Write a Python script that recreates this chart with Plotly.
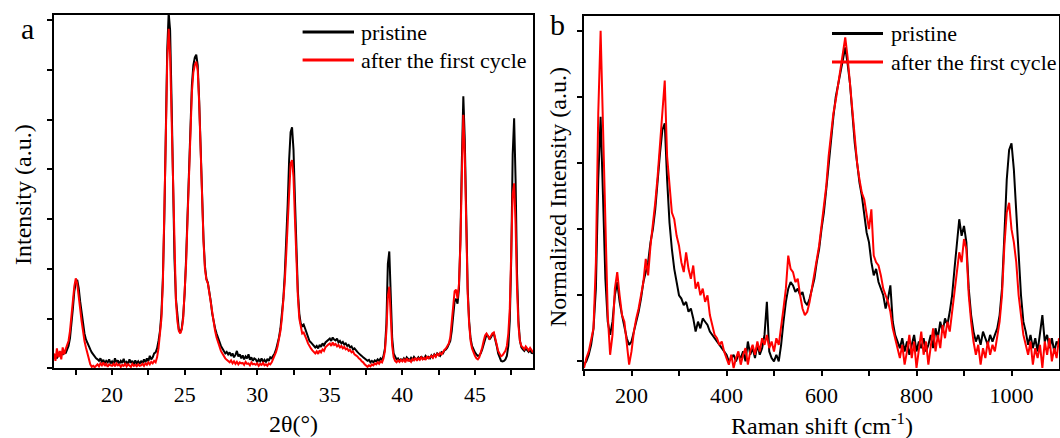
import plotly.graph_objects as go

# ---------------- Panel a: XRD (2theta from 16.0 to 49.0, step 0.1) ----------------
XRD_START = 16.0
XRD_STEP = 0.1
xrd_pristine = [
    0.22, 0.28, 0.20, 0.30, 0.25, 0.33, 0.27, 0.35, 0.30, 0.38,
    0.45, 0.60, 0.85, 1.20, 1.55, 1.72, 1.78, 1.62, 1.35, 1.10,
    0.85, 0.70, 0.58, 0.50, 0.45, 0.38, 0.32, 0.28, 0.22, 0.20,
    0.18, 0.15, 0.20, 0.12, 0.17, 0.10, 0.15, 0.12, 0.18, 0.10,
    0.14, 0.08, 0.20, 0.12, 0.16, 0.09, 0.15, 0.11, 0.19, 0.10,
    0.13, 0.08, 0.18, 0.11, 0.15, 0.07, 0.16, 0.10, 0.14, 0.09,
    0.15, 0.10, 0.18, 0.12, 0.20, 0.14, 0.25, 0.18, 0.22, 0.30,
    0.32, 0.40, 0.55, 0.75, 1.10, 1.80, 3.00, 4.70, 6.40, 7.15,
    6.80, 5.40, 3.60, 2.20, 1.40, 1.00, 0.78, 0.72, 0.80, 1.05,
    1.50, 2.20, 3.10, 4.10, 5.00, 5.70, 6.10, 6.25, 6.31, 6.10,
    5.40, 4.40, 3.40, 2.60, 2.05, 1.80, 1.72, 1.55, 1.35, 1.10,
    0.92, 0.80, 0.70, 0.60, 0.52, 0.45, 0.40, 0.35, 0.30, 0.33,
    0.28, 0.32, 0.25, 0.30, 0.22, 0.27, 0.35, 0.24, 0.28, 0.20,
    0.26, 0.18, 0.24, 0.20, 0.28, 0.17, 0.22, 0.15, 0.20, 0.18,
    0.12, 0.18, 0.14, 0.20, 0.13, 0.17, 0.12, 0.19, 0.15, 0.22,
    0.20, 0.25, 0.30, 0.38, 0.48, 0.62, 0.80, 1.05, 1.40, 1.90,
    2.50, 3.30, 4.20, 4.75, 4.85, 4.40, 3.40, 2.30, 1.55, 1.10,
    0.90, 0.85, 0.88, 0.80, 0.70, 0.62, 0.55, 0.52, 0.48, 0.45,
    0.42, 0.45, 0.40, 0.47, 0.43, 0.50, 0.46, 0.52, 0.55, 0.58,
    0.60, 0.55, 0.62, 0.58, 0.56, 0.60, 0.52, 0.55, 0.50, 0.53,
    0.48, 0.50, 0.45, 0.47, 0.42, 0.44, 0.38, 0.40, 0.35, 0.33,
    0.30, 0.28, 0.25, 0.22, 0.20, 0.18, 0.15, 0.17, 0.12, 0.15,
    0.12, 0.16, 0.14, 0.18, 0.15, 0.20, 0.17, 0.25, 0.40, 0.90,
    2.10, 2.35, 1.40, 0.60, 0.30, 0.22, 0.18, 0.20, 0.15, 0.18,
    0.16, 0.20, 0.15, 0.22, 0.18, 0.16, 0.21, 0.17, 0.23, 0.19,
    0.18, 0.22, 0.17, 0.24, 0.20, 0.19, 0.25, 0.21, 0.23, 0.20,
    0.26, 0.22, 0.28, 0.24, 0.30, 0.27, 0.25, 0.32, 0.30, 0.36,
    0.38, 0.42, 0.48, 0.55, 0.75, 1.05, 1.35, 1.40, 1.30, 1.60,
    2.60, 4.20, 5.47, 4.60, 2.90, 1.60, 0.95, 0.60, 0.45, 0.38,
    0.32, 0.28, 0.25, 0.26, 0.30, 0.38, 0.50, 0.62, 0.68, 0.65,
    0.58, 0.62, 0.68, 0.70, 0.60, 0.45, 0.30, 0.20, 0.15, 0.14,
    0.15, 0.18, 0.25, 0.45, 0.95, 2.20, 4.30, 5.03, 3.80, 1.90,
    0.95, 0.55, 0.42, 0.38, 0.35, 0.40, 0.36, 0.33, 0.37, 0.31,
    0.30,
]
xrd_cycled = [
    0.30, 0.15, 0.40, 0.22, 0.35, 0.18, 0.42, 0.28, 0.38, 0.45,
    0.55, 0.75, 1.00, 1.35, 1.65, 1.81, 1.70, 1.50, 1.20, 0.95,
    0.72, 0.55, 0.42, 0.30, 0.18, 0.08, 0.03, 0.05, 0.02, 0.06,
    0.08, 0.04, 0.10, 0.06, 0.12, 0.05, 0.09, 0.03, 0.08, 0.06,
    0.05, 0.09, 0.04, 0.10, 0.06, 0.08, 0.03, 0.07, 0.05, 0.09,
    0.04, 0.08, 0.06, 0.03, 0.09, 0.05, 0.07, 0.04, 0.08, 0.05,
    0.06, 0.09, 0.05, 0.10, 0.07, 0.12, 0.08, 0.13, 0.10, 0.15,
    0.12, 0.22, 0.40, 0.65, 1.00, 1.70, 2.90, 4.60, 6.20, 6.83,
    6.30, 5.00, 3.40, 2.10, 1.35, 0.95, 0.75, 0.70, 0.78, 1.00,
    1.45, 2.10, 3.00, 4.00, 4.90, 5.55, 5.95, 6.10, 6.17, 6.00,
    5.35, 4.35, 3.35, 2.55, 2.00, 1.78, 1.71, 1.52, 1.30, 1.05,
    0.88, 0.75, 0.62, 0.52, 0.42, 0.35, 0.30, 0.24, 0.20, 0.17,
    0.15, 0.12, 0.16, 0.10, 0.14, 0.09, 0.13, 0.08, 0.12, 0.10,
    0.11, 0.07, 0.13, 0.09, 0.10, 0.06, 0.12, 0.08, 0.09, 0.07,
    0.10, 0.05, 0.09, 0.07, 0.11, 0.06, 0.08, 0.05, 0.10, 0.08,
    0.12, 0.18, 0.25, 0.33, 0.44, 0.58, 0.75, 1.00, 1.30, 1.75,
    2.30, 3.00, 3.75, 4.12, 4.19, 3.85, 3.00, 2.10, 1.45, 1.00,
    0.80, 0.70, 0.72, 0.66, 0.58, 0.50, 0.44, 0.40, 0.36, 0.33,
    0.30, 0.34, 0.29, 0.36, 0.32, 0.38, 0.35, 0.42, 0.46, 0.48,
    0.50, 0.45, 0.52, 0.47, 0.49, 0.44, 0.47, 0.42, 0.45, 0.40,
    0.43, 0.38, 0.40, 0.35, 0.37, 0.32, 0.34, 0.28, 0.26, 0.24,
    0.20, 0.18, 0.14, 0.12, 0.08, 0.05, 0.03, 0.06, 0.04, 0.08,
    0.06, 0.10, 0.08, 0.12, 0.09, 0.14, 0.12, 0.20, 0.35, 0.75,
    1.45, 1.64, 0.95, 0.45, 0.22, 0.15, 0.12, 0.16, 0.13, 0.17,
    0.14, 0.18, 0.12, 0.20, 0.15, 0.17, 0.13, 0.19, 0.16, 0.21,
    0.15, 0.20, 0.17, 0.22, 0.18, 0.21, 0.17, 0.24, 0.20, 0.22,
    0.25, 0.21, 0.27, 0.23, 0.29, 0.26, 0.31, 0.28, 0.34, 0.37,
    0.40, 0.45, 0.50, 0.62, 0.90, 1.25, 1.55, 1.58, 1.40, 1.70,
    2.50, 3.90, 5.10, 4.30, 2.70, 1.50, 0.90, 0.55, 0.40, 0.30,
    0.25, 0.20, 0.18, 0.22, 0.30, 0.42, 0.55, 0.66, 0.70, 0.66,
    0.60, 0.65, 0.70, 0.72, 0.62, 0.48, 0.35, 0.28, 0.24, 0.26,
    0.30, 0.35, 0.45, 0.70, 1.20, 2.40, 3.50, 3.72, 2.90, 1.60,
    0.85, 0.55, 0.45, 0.42, 0.38, 0.44, 0.40, 0.36, 0.41, 0.35,
    0.32,
]
two_theta = [round(XRD_START + XRD_STEP * i, 1) for i in range(len(xrd_pristine))]

# ---------------- Panel b: Raman (100 to 1100 cm-1, step 5) ----------------
RAMAN_START = 100
RAMAN_STEP = 5
raman_pristine = [
    -0.01, 0.00, 0.02, 0.05, 0.10, 0.22, 0.55, 0.74, 0.50, 0.25,
    0.12, 0.08, 0.12, 0.20, 0.24, 0.18, 0.14, 0.10, 0.07, 0.05,
    0.06, 0.09, 0.12, 0.15, 0.19, 0.24, 0.27, 0.30, 0.36, 0.40,
    0.46, 0.55, 0.63, 0.70, 0.72, 0.55, 0.42, 0.34, 0.28, 0.24,
    0.20, 0.19, 0.17, 0.18, 0.15, 0.16, 0.13, 0.09, 0.12, 0.10,
    0.13, 0.12, 0.11, 0.09, 0.08, 0.07, 0.06, 0.05, 0.04, 0.03,
    0.02, 0.00, 0.01, 0.02, 0.00, 0.02, 0.01, 0.03, 0.00, 0.06,
    0.02, 0.04, 0.01, 0.05, 0.02, 0.04, 0.08, 0.18, 0.03, 0.01,
    0.00, 0.02, 0.00, 0.05, 0.12, 0.18, 0.22, 0.24, 0.23, 0.21,
    0.22, 0.20, 0.21, 0.18, 0.17, 0.19, 0.22, 0.25, 0.30, 0.34,
    0.40, 0.45, 0.52, 0.60, 0.67, 0.74, 0.80, 0.84, 0.87, 0.91,
    0.95, 0.90, 0.84, 0.75, 0.66, 0.60, 0.54, 0.50, 0.44, 0.39,
    0.36, 0.30, 0.26, 0.28, 0.24, 0.22, 0.20, 0.16, 0.19, 0.23,
    0.12, 0.08, 0.06, 0.04, 0.07, 0.03, 0.06, 0.02, 0.05, 0.08,
    0.03, 0.06, 0.04, 0.07, 0.03, 0.05, 0.08, 0.04, 0.10, 0.07,
    0.12, 0.09, 0.13, 0.11, 0.15, 0.20, 0.28, 0.36, 0.43, 0.38,
    0.41, 0.36, 0.22, 0.14, 0.09, 0.06, 0.08, 0.05, 0.09, 0.07,
    0.05, 0.08, 0.06, 0.08, 0.10, 0.14, 0.22, 0.38, 0.55, 0.64,
    0.66, 0.58, 0.45, 0.30, 0.20, 0.12, 0.09, 0.05, 0.08, 0.04,
    0.07, 0.03, 0.09, 0.14, 0.06, 0.08, 0.04, 0.07, 0.03, 0.06,
    0.05,
]
raman_cycled = [
    -0.02, 0.01, 0.03, 0.07, 0.10, 0.30, 0.75, 1.00, 0.72, 0.38,
    0.14, 0.02, 0.08, 0.22, 0.27, 0.20, 0.14, 0.12, 0.05, -0.01,
    0.03, 0.09, 0.13, 0.16, 0.20, 0.24, 0.31, 0.26, 0.35, 0.41,
    0.48, 0.56, 0.66, 0.78, 0.85, 0.62, 0.52, 0.45, 0.43, 0.38,
    0.35, 0.30, 0.27, 0.33, 0.28, 0.25, 0.29, 0.22, 0.24, 0.20,
    0.22, 0.18, 0.20, 0.14, 0.11, 0.08, 0.07, 0.05, 0.06, 0.03,
    0.01, -0.01, 0.02, -0.02, 0.01, 0.03, -0.01, 0.02, 0.04, -0.01,
    0.03, 0.05, 0.02, 0.06, 0.03, 0.07, 0.05, 0.08, 0.04, 0.06,
    0.03, 0.07, 0.05, 0.10, 0.16, 0.22, 0.32, 0.28, 0.27, 0.24,
    0.25, 0.20, 0.16, 0.14, 0.15, 0.18, 0.22, 0.26, 0.30, 0.35,
    0.41, 0.47, 0.53, 0.62, 0.69, 0.75, 0.79, 0.84, 0.88, 0.93,
    0.98, 0.92, 0.85, 0.76, 0.68, 0.60, 0.55, 0.51, 0.49, 0.44,
    0.40, 0.46, 0.32, 0.30, 0.29, 0.26, 0.22, 0.20, 0.18, 0.15,
    0.10, 0.07, 0.04, 0.01, 0.05, -0.01, 0.03, 0.08, 0.01, 0.06,
    -0.02, 0.04, 0.09, 0.02, 0.06, -0.01, 0.05, 0.10, 0.03, 0.08,
    0.04, 0.11, 0.07, 0.12, 0.09, 0.15, 0.20, 0.26, 0.33, 0.30,
    0.37, 0.34, 0.20, 0.12, 0.06, 0.02, 0.05, -0.01, 0.04, 0.01,
    0.06, 0.02, 0.05, 0.03, 0.08, 0.12, 0.20, 0.35, 0.45, 0.48,
    0.40, 0.36, 0.30, 0.20, 0.14, 0.08, 0.05, 0.02, 0.06, -0.01,
    0.04, 0.01, 0.05, -0.02, 0.06, 0.02, 0.07, 0.00, 0.04, 0.01,
    0.07,
]
raman_shift = [RAMAN_START + RAMAN_STEP * i for i in range(len(raman_pristine))]

SERIES_NAMES = ["pristine", "after the first cycle"]
SERIES_COLORS = ["#000000", "#ff0000"]

W, H = 1060, 438
FONT = "Liberation Serif"


def px(x):
    return x / W


def py(y):
    return 1 - y / H


fig = go.Figure()
for name, ys, color in zip(SERIES_NAMES, [xrd_pristine, xrd_cycled], SERIES_COLORS):
    fig.add_trace(go.Scatter(x=two_theta, y=ys, mode="lines", name=name,
                             line=dict(color=color, width=2), xaxis="x", yaxis="y",
                             showlegend=False))
for name, ys, color in zip(SERIES_NAMES, [raman_pristine, raman_cycled], SERIES_COLORS):
    fig.add_trace(go.Scatter(x=raman_shift, y=ys, mode="lines", name=name,
                             line=dict(color=color, width=2), xaxis="x2", yaxis="y2",
                             showlegend=False))

axis_common = dict(showline=True, mirror=True, linecolor="black", linewidth=1.6,
                   ticks="outside", ticklen=5, tickwidth=1.5, tickcolor="black",
                   showgrid=False, zeroline=False,
                   tickfont=dict(family=FONT, size=22, color="black"))

fig.update_layout(
    width=W, height=H, margin=dict(l=0, r=0, t=0, b=0),
    paper_bgcolor="white", plot_bgcolor="white",
    font=dict(family=FONT, color="black", size=22),
    xaxis=dict(domain=[px(54), px(533)], range=[16, 49], tickvals=[20, 25, 30, 35, 40, 45],
               minor=dict(tickvals=[17.5, 22.5, 27.5, 32.5, 37.5, 42.5, 47.5], ticks="outside",
                          ticklen=5, tickwidth=1.5, tickcolor="black"),
               anchor="y", **axis_common),
    yaxis=dict(domain=[py(368.3), py(15)], range=[0, 7.107], tickvals=[0, 1, 2, 3, 4, 5, 6, 7],
               showticklabels=False, anchor="x", **axis_common),
    xaxis2=dict(domain=[px(584), px(1059)], range=[100, 1100], tickvals=[200, 400, 600, 800, 1000],
                minor=dict(tickvals=[100, 300, 500, 700, 900], ticks="outside",
                           ticklen=5, tickwidth=1.5, tickcolor="black"),
                anchor="y2", **axis_common),
    yaxis2=dict(domain=[py(369.3), py(16)], range=[-0.024, 1.045],
                tickvals=[0, 0.2, 0.4, 0.6, 0.8, 1.0],
                showticklabels=False, anchor="x2", **axis_common),
)

annotations = [
    dict(text="2θ(°)", x=px(293.5), y=py(424), font=dict(size=24)),
    dict(text="Raman shift (cm<sup>-1</sup>)", x=px(821.5), y=py(424), font=dict(size=24)),
    dict(text="Intensity (a.u.)", x=px(23), y=py(195), textangle=-90, font=dict(size=24)),
    dict(text="Normalized Intensity (a.u.)", x=px(558), y=py(197), textangle=-90, font=dict(size=24)),
    dict(text="a", x=px(27), y=py(28), font=dict(size=30)),
    dict(text="b", x=px(557), y=py(24), font=dict(size=30)),
]
for a in annotations:
    a.update(xref="paper", yref="paper", showarrow=False, xanchor="center", yanchor="middle")
    a["font"].update(family=FONT, color="black")
    fig.add_annotation(**a)

# legends drawn as line samples + text for each panel
legend_specs = [
    (302.6, 354, 359, [32, 60]),
    (832, 883, 888.5, [33.5, 62]),
]
shapes = []
for x0, x1, tx, ys in legend_specs:
    for name, color, yy in zip(SERIES_NAMES, SERIES_COLORS, ys):
        shapes.append(dict(type="line", xref="paper", yref="paper",
                           x0=px(x0), x1=px(x1), y0=py(yy), y1=py(yy),
                           line=dict(color=color, width=3)))
        fig.add_annotation(text=name, xref="paper", yref="paper", x=px(tx), y=py(yy),
                           xanchor="left", yanchor="middle", showarrow=False,
                           font=dict(family=FONT, size=22, color="black"))
fig.update_layout(shapes=shapes)

fig.write_html("out.html")
